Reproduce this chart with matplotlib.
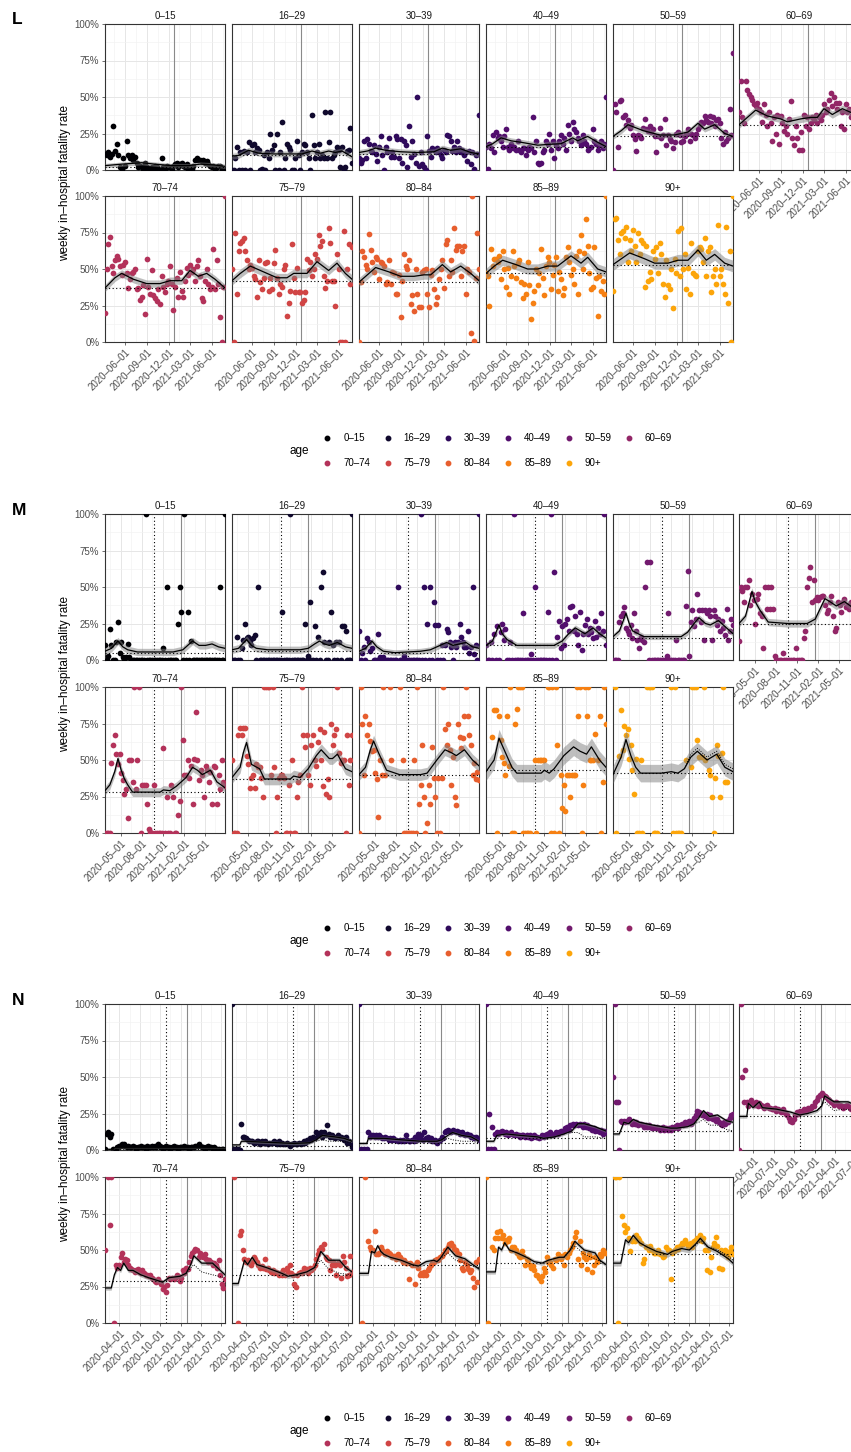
import numpy as np
import pandas as pd
import matplotlib
matplotlib.use("Agg")
import matplotlib.pyplot as plt
from matplotlib.lines import Line2D

plt.rcParams['font.family'] = ['Liberation Sans', 'DejaVu Sans']

AGES = ['0–15', '16–29', '30–39', '40–49', '50–59', '60–69',
        '70–74', '75–79', '80–84', '85–89', '90+']
Y_TICKS = [0, 25, 50, 75, 100]
Y_TICK_LABELS = ['0%', '25%', '50%', '75%', '100%']
Y_LABEL = 'weekly in–hospital fatality rate'
N_ = None

# ---------------- Panel L ----------------
L_start = '2020-03-09'
L_xlim = ('2020-03-09', '2021-07-26')
L_ticks = ['2020-06-01', '2020-09-01', '2020-12-01', '2021-03-01', '2021-06-01']
L_tick_labels = ['2020–06–01', '2020–09–01', '2020–12–01', '2021–03–01', '2021–06–01']
L_vsolid = '2020-12-24'
L_vdot = None
L_base = [2, 10, 11, 15.5, 23, 31, 37, 41.5, 41, 47, 53]
L_band = [1.5, 2, 2, 2, 2, 2.5, 2.5, 3, 3, 3.5, 4]

L_pts_00 = [11, 10, 12, 9, 11, 30, 13, 18, 10, 2, 1, 8, 3, 20, 10, 8, 10, 7, 9, 5,
            2, 3, 2, 1, 5, 2, 1, 0, 2, 1, 3, 2, 1, 0, 8, 2, 1, 3, 2, 2,
            1, 3, 4, 5, 2, 4, 5, 3, 2, 4, 1, 2, 1, 3, 7, 8, 7, 7, 6, 7,
            5, 6, 4, 3, 2, 3, 1, 2, 3, 3, 1, 0, 1]
L_pts_16 = [0, 0, 8, 16, 0, 12, 0, 13, 0, 12, 19, 0, 17, 18, 12, 15, 14, 0, 1, 10,
            0, 12, 8, 25, 14, 17, 0, 25, 0, 12, 33, 0, 8, 18, 16, 14, 0, 0, 8, 20,
            10, 0, 12, 18, 17, 12, 8, 0, 38, 17, 8, 12, 18, 8, 10, 8, 40, 8, 19, 40,
            8, 10, 12, 16, 14, 2, 16, 0, 2, 13, 14, 29, 5]
L_pts_30 = [8, 5, 7, 20, 8, 21, 18, 13, 12, 17, 11, 6, 16, 23, 10, 0, 16, 12, 22, 9,
            12, 9, 23, 21, 8, 21, 5, 20, 17, 2, 30, 9, 20, 11, 5, 50, 3, 12, 4, 2,
            0, 23, 13, 9, 15, 14, 12, 15, 13, 10, 8, 14, 12, 24, 23, 20, 13, 16, 12, 20,
            15, 12, 14, 10, 12, 6, 13, 4, 12, 1, 10, 11, 38]
L_pts_40 = [16, 1, 18, 15, 24, 12, 26, 22, 23, 20, 16, 23, 28, 16, 14, 18, 15, 16, 14, 20,
            14, 12, 15, 15, 10, 14, 16, 15, 36, 12, 20, 5, 4, 5, 12, 14, 20, 18, 25, 14,
            20, 8, 17, 15, 20, 24, 18, 22, 14, 31, 25, 20, 33, 28, 26, 22, 20, 17, 24, 20,
            18, 14, 15, 16, 28, 20, 18, 14, 17, 20, 15, 18, 50]
L_pts_50 = [0, 45, 40, 16, 47, 48, 36, 38, 31, 34, 29, 31, 24, 21, 13, 24, 23, 22, 29, 35,
            28, 27, 30, 26, 28, 23, 12, 23, 29, 22, 24, 35, 17, 24, 21, 20, 15, 19, 25, 26,
            24, 19, 20, 23, 25, 28, 20, 25, 24, 22, 25, 28, 30, 33, 32, 37, 34, 33, 37, 32,
            36, 30, 34, 35, 32, 22, 18, 26, 20, 22, 42, 24, 80]
L_pts_60 = [40, 61, 36, 32, 61, 55, 52, 50, 48, 45, 44, 46, 42, 40, 33, 45, 38, 30, 40, 32,
            20, 36, 25, 38, 18, 37, 32, 27, 30, 25, 35, 47, 22, 17, 30, 22, 14, 26, 14, 38,
            30, 36, 28, 32, 36, 34, 38, 32, 36, 34, 38, 45, 40, 42, 48, 53, 44, 50, 46, 42,
            46, 30, 40, 28, 45, 40, 42, 36, 38, 40, 36, 28, 42]
L_pts_70 = [20, 50, 67, 72, 52, 47, 56, 59, 57, 52, 46, 53, 55, 47, 37, 43, 47, 48, 50, 36,
            37, 29, 31, 39, 19, 57, 38, 33, 49, 32, 30, 28, 36, 26, 45, 38, 34, 40, 42, 52,
            40, 22, 38, 44, 31, 48, 35, 31, 42, 51, 46, 53, 48, 50, 42, 52, 56, 45, 30, 28,
            42, 50, 40, 36, 38, 64, 36, 56, 40, 17, 0, 38, 100]
L_pts_75 = [50, 0, 75, 33, 62, 68, 69, 71, 62, 56, 50, 53, 51, 45, 43, 31, 56, 41, 36, 44,
            54, 55, 35, 44, 36, 54, 63, 44, 33, 40, 38, 50, 53, 18, 27, 35, 67, 44, 34, 51,
            34, 34, 27, 29, 34, 57, 49, 55, 45, 50, 60, 57, 73, 66, 69, 45, 37, 42, 78, 68,
            42, 42, 25, 60, 50, 0, 0, 76, 0, 50, 67, 40, 65]
L_pts_80 = [0, 41, 62, 58, 53, 50, 74, 63, 55, 48, 58, 57, 43, 55, 54, 52, 40, 41, 56, 40,
            48, 47, 33, 33, 46, 17, 42, 60, 52, 50, 56, 26, 32, 21, 50, 33, 24, 24, 48, 49,
            50, 33, 24, 46, 49, 36, 26, 31, 43, 50, 56, 37, 67, 70, 45, 56, 48, 78, 63, 66,
            66, 45, 62, 66, 33, 50, 48, 6, 100, 1, 44, 75, 50]
L_pts_85 = [47, 45, 25, 64, 52, 57, 57, 55, 59, 43, 62, 50, 38, 51, 33, 45, 62, 52, 44, 54,
            56, 41, 30, 40, 33, 55, 39, 16, 27, 35, 50, 39, 47, 64, 44, 32, 52, 58, 55, 36,
            46, 53, 58, 35, 48, 43, 32, 37, 58, 65, 55, 46, 50, 40, 59, 33, 62, 73, 50, 61,
            84, 66, 47, 36, 38, 65, 44, 18, 45, 35, 42, 33, 100]
L_pts_90 = [35, 84, 85, 70, 60, 75, 76, 71, 79, 55, 70, 62, 77, 66, 55, 75, 60, 70, 68, 38,
            66, 42, 48, 43, 62, 57, 65, 47, 68, 60, 40, 31, 56, 39, 36, 50, 23, 57, 47, 76,
            45, 78, 50, 60, 36, 51, 33, 68, 47, 46, 45, 62, 65, 64, 55, 71, 45, 62, 65, 34,
            45, 50, 40, 80, 45, 50, 40, 33, 79, 27, 62, 0, 100]

L_line_00 = [(0, 3), (10, 4), (22, 5), (30, 4), (40, 3), (50, 3), (57, 4), (65, 3.5), (72, 2.5)]
L_line_16 = [(0, 9.5), (4, 10), (10, 13.5), (16, 11.5), (25, 11), (35, 11), (42, 11), (48, 13),
             (53, 11.5), (58, 13), (62, 12), (66, 13), (72, 9)]
L_line_30 = [(0, 12), (5, 13), (10, 15), (16, 13.5), (25, 12.5), (35, 12), (45, 12.5), (50, 15),
             (55, 13.5), (61, 14.5), (67, 12), (72, 11)]
L_line_40 = [(0, 16), (4, 18), (9, 22), (15, 20), (21, 19), (31, 17), (37, 17.5), (45, 18),
             (52, 22), (55, 20), (61, 23), (67, 19), (72, 16)]
L_line_50 = [(0, 23), (5, 27), (9, 31), (18, 27), (28, 24), (37, 24), (45, 26), (51, 32),
             (55, 28), (61, 31), (67, 25), (72, 23)]
L_line_60 = [(0, 31), (4, 35), (10, 41), (17, 37), (25, 35), (29, 33), (37, 35), (43, 36),
             (47, 36), (51, 42), (56, 38), (62, 42), (66, 40), (72, 37)]
L_line_70 = [(0, 37), (6, 44), (10, 47), (17, 43), (25, 40), (33, 40), (39, 42), (46, 42),
             (51, 49), (56, 45), (61, 47), (66, 43), (72, 37)]
L_line_75 = [(0, 42), (5, 47), (11, 52), (19, 48), (27, 44), (33, 44), (37, 47), (45, 47),
             (51, 55), (58, 49), (63, 54), (68, 47), (72, 43)]
L_line_80 = [(0, 41), (5, 46), (10, 51), (18, 48), (25, 45), (33, 45), (39, 46), (43, 46),
             (50, 53), (55, 48), (61, 52), (67, 47), (72, 42)]
L_line_85 = [(0, 47), (5, 52), (10, 56), (18, 53), (25, 50), (31, 50), (37, 52), (43, 52),
             (51, 59), (57, 54), (61, 58), (67, 50), (72, 48)]
L_line_90 = [(0, 53), (5, 57), (10, 61), (19, 57), (25, 54), (33, 54), (39, 56), (45, 56),
             (51, 63), (56, 56), (61, 60), (67, 54), (72, 52)]

# ---------------- Panel M ----------------
M_start = '2020-02-24'
M_xlim = ('2020-02-24', '2021-07-26')
M_ticks = ['2020-05-01', '2020-08-01', '2020-11-01', '2021-02-01', '2021-05-01']
M_tick_labels = ['2020–05–01', '2020–08–01', '2020–11–01', '2021–02–01', '2021–05–01']
M_vsolid = '2021-01-19'
M_vdot = '2020-09-21'
M_base = [5, 6, 5, 10, 15, 25, 28, 37, 39.5, 43, 41]
M_band = [2.5, 2.5, 2, 2, 2, 2.5, 3, 4, 4, 6, 6]

M_pts_00 = [10, 0, 3, 21, 10, 0, 0, 12, 26, 5, 12, 2, 1, 2, 11, 2, 0, 0, 0, 0,
            0, 0, 0, 0, 0, 100, 0, 0, 0, 0, 0, 0, 0, 0, 0, 0, 8, 0, 50, 0,
            0, 0, 0, 0, 0, 25, 50, 33, 0, 100, 0, 33, 0, 13, 0, 0, 0, 0, 0, 0,
            0, 0, 0, 0, 0, 0, 0, 0, 0, 0, 0, 50, 0, 0, 100]
M_pts_16 = [0, 0, 0, 16, 0, 0, 8, 14, 25, 15, 16, 13, 10, 15, 17, 0, 50, 0, 0, 0,
            0, 0, 0, 0, 0, 0, 0, 0, 0, 0, 0, 33, 0, 0, 0, 0, 100, 0, 0, 0,
            0, 0, 0, 0, 0, 25, 0, 3, 40, 0, 0, 23, 0, 16, 0, 50, 60, 12, 0, 0,
            12, 33, 10, 0, 12, 0, 12, 0, 23, 23, 20, 0, 0, 0, 100]
M_pts_30 = [20, 0, 5, 9, 0, 15, 12, 6, 8, 0, 0, 0, 18, 2, 0, 2, 0, 0, 0, 0,
            0, 0, 0, 0, 50, 0, 0, 0, 3, 0, 0, 0, 0, 0, 0, 0, 0, 0, 100, 0,
            50, 0, 25, 0, 50, 0, 40, 24, 0, 24, 0, 10, 0, 10, 21, 19, 12, 9, 0, 12,
            9, 12, 25, 16, 12, 9, 9, 20, 5, 9, 50, 4, 10, 0, 100]
M_pts_40 = [10, 0, 0, 12, 0, 18, 0, 23, 0, 19, 25, 14, 21, 0, 0, 12, 0, 100, 0, 0,
            0, 0, 0, 32, 0, 0, 0, 0, 4, 0, 50, 0, 0, 0, 0, 0, 0, 0, 33, 0,
            100, 0, 60, 0, 16, 27, 8, 23, 10, 25, 28, 20, 36, 37, 20, 30, 18, 10, 33, 7,
            18, 24, 28, 18, 22, 19, 15, 27, 16, 22, 18, 32, 20, 100, 10]
M_pts_50 = [0, 0, 0, 0, 26, 30, 32, 36, 22, 20, 18, 24, 15, 32, 20, 14, 8, 16, 14, 12,
            50, 67, 0, 67, 0, 0, 0, 0, 0, 0, 0, 0, 0, 3, 32, 0, 0, 0, 0, 14,
            0, 0, 0, 0, 0, 37, 61, 3, 26, 34, 23, 28, 45, 34, 26, 34, 14, 34, 32, 34,
            30, 14, 34, 30, 24, 28, 20, 27, 22, 17, 35, 14, 20, 28, 24]
M_pts_60 = [13, 50, 47, 40, 50, 50, 55, 38, 45, 41, 25, 42, 45, 32, 30, 8, 50, 35, 50, 35,
            50, 35, 3, 0, 0, 0, 0, 5, 0, 0, 0, 0, 0, 0, 0, 8, 0, 0, 0, 0,
            15, 20, 50, 56, 64, 40, 55, 41, 43, 41, 43, 44, 44, 38, 32, 34, 40, 44, 30, 20,
            22, 40, 38, 33, 40, 42, 36, 38, 35, 40, 38, 36, 42, 37, 38]
M_pts_70 = [0, 0, 0, 0, 48, 60, 67, 54, 47, 54, 41, 36, 27, 30, 10, 50, 50, 35, 100, 30,
            50, 100, 0, 33, 33, 33, 20, 3, 1, 0, 33, 0, 0, 0, 0, 0, 58, 0, 25, 0,
            0, 33, 25, 0, 0, 12, 22, 100, 64, 40, 40, 50, 38, 46, 20, 51, 83, 50, 36, 43,
            40, 25, 46, 43, 35, 42, 20, 46, 45, 20, 40, 30, 50, 35, 32]
M_pts_75 = [50, 0, 0, 0, 67, 72, 67, 72, 72, 53, 47, 31, 38, 40, 31, 47, 45, 45, 38, 25,
            100, 100, 100, 100, 40, 100, 45, 0, 25, 38, 40, 40, 38, 0, 0, 33, 0, 50, 0, 0,
            25, 35, 40, 100, 67, 59, 67, 40, 33, 60, 67, 50, 46, 62, 71, 50, 32, 69, 27, 37,
            25, 75, 60, 67, 71, 100, 55, 48, 50, 50, 0, 67, 33, 50, 67]
M_pts_80 = [0, 100, 75, 40, 80, 67, 75, 63, 56, 57, 41, 37, 11, 50, 40, 100, 40, N_, N_, 100,
            50, N_, N_, N_, N_, 100, N_, 50, 0, 0, 0, 0, 0, 0, 50, 0, 100, 20, 33, 60,
            25, 0, 7, 33, 20, 59, 38, 25, 0, 38, 0, 38, 100, 71, 60, 75, 57, 33, 52, 25,
            19, 75, 66, 58, 65, 80, 100, 80, 67, 60, 40, 48, 37, 42, 36]
M_pts_85 = [N_, N_, N_, N_, 66, 84, 84, 0, 80, 64, 52, 48, 40, 80, 46, 100, 0, 0, 75, 85,
            100, 100, 100, 0, 0, 0, 0, 0, N_, N_, 50, 0, 50, 50, 50, 50, 50, N_, 100, 100,
            0, 100, 0, 100, 60, 0, 40, 17, 33, 15, 40, 40, 25, 40, 40, 40, 100, 80, 100, 0,
            33, 100, 80, 100, 50, 50, 50, 68, N_, 50, 80, 0, 35, 100, 75]
M_pts_90 = [N_, 100, 0, N_, 53, 84, 57, 73, 67, 71, 51, 60, 43, 27, 51, 0, 0, 50, 0, N_,
            N_, 100, 100, 100, 100, 0, 0, 0, N_, N_, N_, N_, N_, N_, N_, N_, 100, 0, 100, 0,
            0, 0, 0, N_, N_, 50, N_, N_, 45, 100, 100, 100, 64, 52, N_, 52, 100, 50, N_, 43,
            40, 25, 0, 38, 60, 53, 25, 55, 100, 35, 35, N_, N_, N_, N_]

M_line_00 = [(0, 6), (4, 8), (8, 13), (11, 9), (14, 7), (20, 5.5), (30, 5.5), (42, 5.5), (48, 7),
             (51, 10), (54, 13), (58, 10), (62, 10), (66, 11), (70, 9), (74, 8)]
M_line_16 = [(0, 7), (4, 8), (9, 14), (12, 10), (15, 8), (22, 7), (42, 7), (47, 8), (51, 11),
             (54, 13), (57, 11), (60, 10), (65, 12), (70, 9), (74, 8)]
M_line_30 = [(0, 6), (4, 8), (8, 13), (11, 9), (15, 6), (22, 5), (38, 6), (44, 7), (48, 9),
             (54, 12), (58, 10), (62, 11), (66, 12), (70, 9), (74, 8)]
M_line_40 = [(0, 10), (4, 13), (8, 24), (10, 18), (13, 14), (19, 10), (42, 10), (47, 13),
             (51, 18), (55, 22), (58, 20), (61, 18), (66, 22), (70, 18), (74, 15)]
M_line_50 = [(0, 16), (4, 20), (8, 32), (10, 25), (12, 20), (19, 16), (42, 16), (46, 19),
             (50, 25), (53, 29), (57, 25), (60, 24), (65, 27), (70, 22), (74, 18)]
M_line_60 = [(0, 25), (4, 30), (8, 47), (10, 40), (13, 34), (18, 26), (30, 25), (42, 25),
             (47, 28), (50, 35), (53, 42), (56, 40), (60, 37), (65, 40), (70, 36), (74, 37)]
M_line_70 = [(0, 29), (3, 33), (6, 42), (8, 51), (10, 43), (12, 37), (14, 33), (17, 28),
             (34, 28), (36, 29.5), (40, 29), (44, 32), (47, 35), (50, 38), (54, 45),
             (57, 43), (60, 40), (65, 43), (69, 35), (74, 31)]
M_line_75 = [(0, 38), (5, 45), (7, 55), (9, 62), (12, 47), (17, 44), (20, 37), (36, 37),
             (38, 39), (42, 38), (47, 44), (52, 53), (55, 57), (60, 51), (62, 51), (65, 54),
             (70, 44), (74, 42)]
M_line_80 = [(0, 40), (4, 45), (7, 57), (9, 63), (12, 55), (17, 43), (25, 40), (38, 40),
             (42, 41), (44, 44), (48, 50), (53, 57), (57, 55), (60, 53), (65, 57), (70, 50),
             (74, 46)]
M_line_85 = [(0, 42), (5, 50), (8, 65), (12, 55), (16, 45), (19, 41), (34, 41), (36, 43),
             (39, 41), (42, 44), (48, 53), (54, 59), (58, 56), (62, 54), (65, 59), (70, 50),
             (74, 45)]
M_line_90 = [(0, 40), (5, 52), (8, 64), (11, 53), (14, 45), (17, 41), (30, 41), (36, 42),
             (40, 41), (44, 44), (48, 52), (52, 56), (58, 50), (64, 54), (69, 45), (74, 42)]
M_alt_90 = [(44, 44), (48, 54), (52, 58), (58, 52), (64, 56), (69, 47), (74, 44)]

# ---------------- Panel N ----------------
N_start = '2020-01-27'
N_xlim = ('2020-01-27', '2021-07-19')
N_ticks = ['2020-04-01', '2020-07-01', '2020-10-01', '2021-01-01', '2021-04-01', '2021-07-01']
N_tick_labels = ['2020–04–01', '2020–07–01', '2020–10–01', '2021–01–01', '2021–04–01', '2021–07–01']
N_vsolid = '2021-01-31'
N_vdot = '2020-10-26'
N_base = [1, 3, 5, 8, 13, 23, 29, 33, 40, 41, 47]
N_band = [0.5, 1, 1, 1, 1, 1.2, 1.5, 1.5, 1.5, 1.5, 2]

N_pts_00 = [1, 11, 12, 9, 11, 1, 0, 1, 2, 3, 3, 4, 4, 3, 2, 3, 2, 2, 3, 2,
            1, 2, 2, 3, 2, 2, 1, 3, 2, 2, 3, 2, 3, 2, 4, 3, 2, 1, 2, 3,
            2, 2, 1, 2, 3, 2, 2, 1, 2, 2, 2, 3, 2, 2, 1, 2, 2, 2, 3, 3,
            4, 3, 2, 2, 1, 2, 3, 2, 2, 1, 2, 1, 1, 1, 0, 1, 1, 0]
N_pts_16 = [100, 1, 1, 1, 1, 0, 18, 9, 9, 8, 7, 6, 6, 6, 5, 5, 6, 6, 4, 6,
            5, 6, 5, 4, 5, 5, 5, 6, 5, 4, 6, 4, 5, 4, 4, 5, 4, 3, 4, 4,
            5, 4, 4, 5, 4, 5, 6, 5, 7, 6, 8, 7, 9, 8, 12, 11, 10, 12, 9, 12,
            10, 17, 11, 9, 10, 9, 8, 9, 10, 8, 9, 8, 7, 9, 5, 6, 5, 2]
N_pts_30 = [100, 1, 0, 1, 0, 1, 12, 9, 10, 10, 9, 10, 9, 10, 9, 8, 8, 9, 8, 7,
            8, 7, 8, 7, 7, 6, 7, 6, 7, 6, 10, 7, 6, 6, 7, 6, 9, 7, 11, 8,
            10, 7, 12, 8, 9, 7, 8, 6, 6, 7, 5, 6, 7, 9, 8, 12, 13, 14, 13, 12,
            14, 13, 12, 13, 12, 11, 12, 11, 10, 11, 10, 10, 9, 9, 8, 9, 8, 7]
N_pts_40 = [100, 1, 25, 1, 16, 1, 11, 12, 11, 12, 13, 12, 11, 12, 10, 11, 12, 11, 10, 11,
            10, 10, 9, 10, 10, 9, 10, 9, 10, 8, 9, 10, 9, 9, 8, 9, 10, 9, 10, 11,
            10, 12, 11, 10, 11, 12, 11, 12, 13, 12, 13, 15, 16, 14, 17, 17, 18, 17, 18, 17,
            18, 17, 16, 18, 16, 17, 15, 16, 14, 15, 13, 14, 13, 12, 14, 11, 13, 12]
N_pts_50 = [50, 100, 33, 33, 0, 20, 19, 20, 19, 20, 21, 20, 18, 19, 18, 19, 17, 18, 18, 17,
            16, 17, 16, 17, 16, 15, 16, 15, 16, 15, 14, 15, 16, 14, 15, 14, 15, 14, 16, 15,
            16, 17, 15, 17, 18, 17, 19, 18, 19, 20, 18, 20, 22, 24, 27, 26, 25, 24, 25, 23,
            25, 22, 24, 22, 21, 22, 20, 21, 19, 18, 17, 19, 18, 20, 19, 22, 24, 25]
N_pts_60 = [0, 100, 50, 33, 55, 33, 30, 33, 34, 32, 31, 33, 30, 32, 31, 30, 29, 30, 31, 29,
            29, 28, 28, 29, 27, 28, 27, 26, 28, 26, 25, 24, 22, 20, 19, 21, 24, 26, 25, 27,
            26, 27, 28, 27, 29, 28, 29, 30, 30, 33, 34, 36, 38, 39, 38, 37, 36, 35, 34, 33,
            32, 31, 33, 32, 30, 31, 30, 29, 30, 31, 30, 29, 28, 30, 29, 28, 30, 29]
N_pts_70 = [50, N_, 100, 67, 100, N_, 0, 40, 38, 40, 45, 48, 42, 44, 43, 40, 38, 37, 36, 35,
            36, 37, 35, 34, 36, 34, 33, 33, 32, 33, 31, 30, 29, 28, 30, 28, 27, 23, 25, 21,
            26, 31, 30, 31, 30, 31, 33, 32, 29, 31, 36, 34, 38, 37, 42, 46, 48, 49, 51, 50,
            45, 48, 46, 45, 47, 44, 42, 43, 42, 40, 41, 40, 38, 43, 33, 27, 24, 30]
N_pts_75 = [N_, 100, N_, N_, 0, 60, 63, 50, 44, 42, 43, 41, 40, 42, 45, 44, 42, 40, 38, 39,
            38, 44, 37, 38, 36, 35, 36, 34, 35, 34, 33, 34, 33, 36, 33, 38, 35, 40, 34, 33,
            27, 25, 33, 34, 35, 34, 38, 36, 37, 34, 38, 36, 38, 40, 44, 47, 50, 52, 51, 54,
            45, 44, 43, 36, 40, 42, 40, 33, 41, 40, 31, 46, 42, 38, 32, 33, 46, 35]
N_pts_80 = [N_, N_, 0, N_, 100, N_, 56, 52, 50, 50, 63, 47, 47, 48, 52, 50, 48, 47, 49, 48,
            47, 45, 46, 46, 44, 47, 45, 44, 42, 43, 41, 41, 30, 41, 40, 40, 27, 42, 38, 33,
            34, 33, 35, 33, 36, 38, 40, 41, 42, 43, 44, 43, 45, 46, 47, 50, 49, 52, 54, 55,
            53, 51, 50, 48, 47, 43, 38, 36, 42, 40, 37, 35, 36, 31, 25, 42, 28, 44]
N_pts_85 = [100, 0, N_, N_, 52, 50, 58, 62, 58, 63, 58, 60, 55, 57, 56, 58, 50, 52, 52, 50,
            48, 46, 45, 49, 46, 40, 44, 43, 40, 38, 39, 36, 33, 33, 31, 29, 32, 38, 35, 45,
            42, 42, 40, 38, 44, 43, 47, 45, 44, 46, 40, 47, 45, 48, 50, 52, 55, 59, 62, 44,
            56, 40, 48, 45, 44, 37, 47, 45, 35, 40, 45, 42, 44, 47, 46, 50, 48, 48]
N_pts_90 = [N_, 100, 100, 0, 100, N_, 73, 67, 62, 65, 58, 49, 56, 57, 56, 60, 58, 57, 55, 41,
            44, 52, 52, 50, 53, 50, 48, 48, 48, 50, 47, 47, 45, 46, 52, 50, 50, 30, 48, 49,
            50, 52, 51, 53, 55, 54, 57, 55, 53, 54, 55, 52, 56, 57, 58, 57, 60, 56, 58, 50,
            36, 50, 35, 45, 52, 55, 59, 53, 38, 50, 37, 48, 50, 47, 45, 49, 52, 47]

N_line_00 = [(0, 0.5), (5, 0.5), (6, 1.5), (40, 1.5), (77, 1.5)]
N_line_16 = [(0, 3.5), (5, 3.5), (6, 6), (8, 6), (18, 5.5), (29, 5), (40, 4.5), (50, 5),
             (54, 7), (58, 10), (66, 9), (72, 8), (77, 6)]
N_line_30 = [(0, 4.5), (5, 4.5), (6, 8), (16, 8), (27, 7), (40, 6), (50, 6), (53, 7), (57, 10),
             (60, 12), (63, 11), (66, 10), (72, 9), (77, 6)]
N_line_40 = [(0, 6), (5, 6), (7, 10), (13, 11), (22, 10), (33, 9), (37, 8), (44, 9), (50, 11),
             (55, 13), (59, 18), (63, 18), (70, 16), (77, 13)]
N_line_50 = [(0, 11), (4, 11), (7, 19), (10, 18), (13, 21), (17, 19), (26, 17), (37, 15),
             (41, 15), (48, 16), (52, 18), (55, 22), (58, 27), (62, 23), (67, 24), (73, 20),
             (77, 19)]
N_line_60 = [(0, 23), (5, 23), (6, 32), (9, 29), (13, 33), (15, 29), (24, 28), (33, 26),
             (39, 24), (44, 25), (50, 27), (53, 30), (55, 37), (58, 35), (61, 33), (70, 33),
             (74, 31), (77, 31)]
N_line_70 = [(0, 24), (4, 24), (6, 33), (8, 38), (10, 36), (12, 41), (15, 36), (18, 36),
             (23, 33), (28, 31), (34, 29), (37, 28), (41, 31), (48, 32), (52, 34), (55, 40),
             (57, 46), (62, 41), (69, 41), (73, 37), (77, 33)]
N_line_75 = [(0, 27), (4, 27), (6, 35), (8, 43), (10, 40), (13, 45), (16, 40), (22, 38),
             (27, 36), (32, 34), (36, 32), (41, 33), (48, 35), (53, 38), (57, 49), (62, 43),
             (69, 43), (73, 38), (77, 35)]
N_line_80 = [(0, 34), (6, 34), (8, 49), (10, 48), (12, 53), (14, 49), (16, 47), (20, 45),
             (27, 43), (34, 40), (38, 39), (43, 42), (48, 43), (50, 42), (52, 44), (57, 52),
             (62, 46), (68, 44), (73, 40), (77, 37)]
N_line_85 = [(0, 35), (6, 35), (8, 52), (10, 50), (12, 55), (15, 50), (20, 48), (26, 45),
             (31, 42), (36, 41), (40, 43), (47, 45), (50, 45), (54, 50), (57, 56), (63, 50),
             (70, 48), (73, 43), (77, 40)]
N_line_90 = [(0, 41), (5, 41), (8, 57), (10, 55), (13, 60), (17, 55), (22, 52), (28, 49),
             (35, 47), (38, 49), (44, 51), (49, 50), (53, 54), (56, 58), (61, 52), (67, 49),
             (74, 44), (77, 41)]

N_alt_16 = [(54, 6), (58, 7), (62, 6), (70, 6), (77, 5)]
N_alt_30 = [(53, 6), (57, 8), (60, 7), (66, 6), (72, 6), (77, 5)]
N_alt_40 = [(55, 12), (59, 12), (63, 9), (70, 9), (77, 8)]
N_alt_50 = [(52, 18), (55, 19), (58, 21), (62, 17), (67, 17), (73, 14), (77, 13)]
N_alt_60 = [(50, 27), (55, 33), (61, 27), (67, 28), (74, 27), (77, 26)]
N_alt_70 = [(52, 34), (57, 40), (62, 35), (69, 33), (73, 32), (77, 31)]
N_alt_75 = [(53, 38), (57, 43), (62, 37), (69, 34), (77, 33)]
N_alt_80 = [(52, 44), (57, 48), (62, 43), (68, 41), (73, 39), (77, 38)]
N_alt_85 = [(50, 45), (57, 53), (63, 47), (70, 44), (77, 40)]
N_alt_90 = [(49, 50), (56, 56), (61, 52), (67, 50), (74, 46), (77, 43)]

# ---------------- drawing ----------------
W, H = 851, 1452
fig = plt.figure(figsize=(W / 100, H / 100), dpi=100)
fig.patch.set_facecolor('white')

COL_X = [105, 232, 359, 486, 613, 739]
PW, PH = 120, 146
colors = plt.cm.inferno(np.linspace(0, 0.8, 11))
TICK_C = '#4D4D4D'


def px_axes(x, y, w, h):
    return fig.add_axes([x / W, 1 - (y + h) / H, w / W, h / H])


def to_arr(vals):
    return np.array([np.nan if v is None else v for v in vals], dtype=float)


def knots(start, pairs):
    wk = np.array([p[0] for p in pairs], dtype=float)
    vv = np.array([p[1] for p in pairs], dtype=float)
    return start + pd.to_timedelta(wk * 7, unit='D'), vv


def draw_block(letter, letter_y, rows, start, xlim, ticks, tick_labels, vsolid, vdot,
               base, band, pts, lines, alts, legend_y):
    start = pd.Timestamp(start)
    x0, x1 = pd.Timestamp(xlim[0]), pd.Timestamp(xlim[1])
    tk = pd.to_datetime(ticks)
    mids = [tk[i] + (tk[i + 1] - tk[i]) / 2 for i in range(len(tk) - 1)]
    mids = [tk[0] - (tk[1] - tk[0]) / 2] + mids + [tk[-1] + (tk[-1] - tk[-2]) / 2]
    mids = [m for m in mids if x0 <= m <= x1]
    for i, age in enumerate(AGES):
        r, c = divmod(i, 6)
        ax = px_axes(COL_X[c], rows[r], PW, PH)
        p = to_arr(pts[i])
        d = start + pd.to_timedelta(np.arange(len(p)) * 7, unit='D')
        ld, lv = knots(start, lines[i])
        ax.scatter(d, p, s=17, color=colors[i], linewidths=0, zorder=3)
        ax.fill_between(ld, lv - band[i], lv + band[i], color='#7F7F7F', alpha=0.5,
                        linewidth=0, zorder=4)
        ax.axhline(base[i], color='black', ls=(0, (1, 2.2)), lw=0.8, zorder=5)
        if vdot is not None:
            ax.axvline(pd.Timestamp(vdot), color='black', ls=(0, (1, 2.2)), lw=0.8, zorder=2)
        ax.axvline(pd.Timestamp(vsolid), color='#8A8A8A', lw=0.8, zorder=2)
        if alts.get(i) is not None:
            ad, av = knots(start, alts[i])
            ax.plot(ad, av, color='black', ls=(0, (1, 1.5)), lw=0.7, zorder=5)
        ax.plot(ld, lv, color='black', lw=0.9, zorder=6)
        ax.set_xlim(x0, x1)
        ax.set_ylim(0, 100)
        ax.set_yticks(Y_TICKS)
        ax.set_yticks([12.5, 37.5, 62.5, 87.5], minor=True)
        ax.set_xticks(tk)
        ax.set_xticks(mids, minor=True)
        ax.grid(which='major', color='#E6E6E6', lw=0.7, zorder=0)
        ax.grid(which='minor', color='#F2F2F2', lw=0.45, zorder=0)
        ax.set_axisbelow(True)
        for s in ax.spines.values():
            s.set_color('#333333')
            s.set_linewidth(0.8)
        ax.tick_params(which='minor', length=0)
        ax.tick_params(which='major', length=2.5, width=0.5, color='#333333',
                       labelsize=7, labelcolor=TICK_C, pad=1.5)
        bottom = (r == 1) or (c == 5)
        if bottom:
            ax.set_xticklabels(tick_labels, rotation=45, ha='right', va='top',
                               rotation_mode='anchor')
        else:
            ax.tick_params(axis='x', bottom=False, labelbottom=False)
        if c == 0:
            ax.set_yticklabels(Y_TICK_LABELS)
        else:
            ax.tick_params(axis='y', left=False, labelleft=False)
        ax.set_title(age, fontsize=7, color='#1A1A1A', pad=3.5)
    fig.text(12 / W, 1 - letter_y / H, letter, fontsize=12.5, fontweight='bold',
             ha='left', va='baseline')
    yc = (rows[0] + rows[1] + PH) / 2
    fig.text(65 / W, 1 - yc / H, Y_LABEL, rotation=90, ha='center', va='center',
             fontsize=8.5, color='black')
    fig.text(290 / W, 1 - (legend_y + 13) / H, 'age', fontsize=8.5, ha='left', va='center')
    for i, age in enumerate(AGES):
        rr, cc = divmod(i, 6)
        xd = 327.3 + 60.3 * cc
        yd = legend_y + 25 * rr
        fig.add_artist(Line2D([xd / W], [1 - yd / H], marker='o', ms=3.2, color=colors[i],
                              lw=0, transform=fig.transFigure))
        fig.text((xd + 16) / W, 1 - yd / H, age, fontsize=7, ha='left', va='center',
                 color='black')


draw_block('L', 24, [24, 196], L_start, L_xlim, L_ticks, L_tick_labels, L_vsolid, L_vdot,
           L_base, L_band,
           [L_pts_00, L_pts_16, L_pts_30, L_pts_40, L_pts_50, L_pts_60, L_pts_70, L_pts_75,
            L_pts_80, L_pts_85, L_pts_90],
           [L_line_00, L_line_16, L_line_30, L_line_40, L_line_50, L_line_60, L_line_70,
            L_line_75, L_line_80, L_line_85, L_line_90],
           {}, 438)

draw_block('M', 515, [514, 687], M_start, M_xlim, M_ticks, M_tick_labels, M_vsolid, M_vdot,
           M_base, M_band,
           [M_pts_00, M_pts_16, M_pts_30, M_pts_40, M_pts_50, M_pts_60, M_pts_70, M_pts_75,
            M_pts_80, M_pts_85, M_pts_90],
           [M_line_00, M_line_16, M_line_30, M_line_40, M_line_50, M_line_60, M_line_70,
            M_line_75, M_line_80, M_line_85, M_line_90],
           {10: M_alt_90}, 928)

draw_block('N', 1005, [1004, 1177], N_start, N_xlim, N_ticks, N_tick_labels, N_vsolid, N_vdot,
           N_base, N_band,
           [N_pts_00, N_pts_16, N_pts_30, N_pts_40, N_pts_50, N_pts_60, N_pts_70, N_pts_75,
            N_pts_80, N_pts_85, N_pts_90],
           [N_line_00, N_line_16, N_line_30, N_line_40, N_line_50, N_line_60, N_line_70,
            N_line_75, N_line_80, N_line_85, N_line_90],
           {1: N_alt_16, 2: N_alt_30, 3: N_alt_40, 4: N_alt_50, 5: N_alt_60, 6: N_alt_70,
            7: N_alt_75, 8: N_alt_80, 9: N_alt_85, 10: N_alt_90}, 1418)

fig.savefig('out.png', dpi=100, facecolor='white')
